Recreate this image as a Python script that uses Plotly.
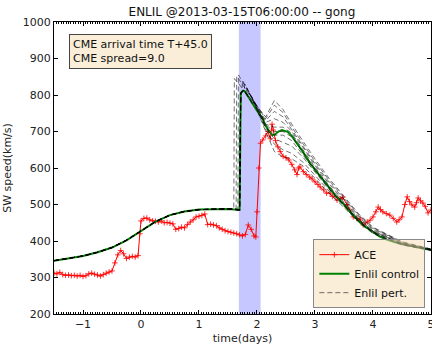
import plotly.graph_objects as go

# ---------------- data ----------------
ace_x = [-1.5, -1.45, -1.4, -1.35, -1.3, -1.25, -1.2, -1.15, -1.1, -1.05, -1.0, -0.95, -0.9, -0.85,
         -0.8, -0.75, -0.7, -0.65, -0.6, -0.55, -0.5, -0.45, -0.4, -0.35, -0.3, -0.25, -0.2, -0.15,
         -0.1, -0.05, -0.02, 0.0, 0.05, 0.1, 0.15, 0.2, 0.25, 0.3, 0.35, 0.4, 0.45, 0.5, 0.55, 0.6,
         0.65, 0.7, 0.75, 0.8, 0.85, 0.9, 0.95, 1.0, 1.05, 1.1, 1.15, 1.2, 1.25, 1.3, 1.35, 1.4, 1.45,
         1.5, 1.55, 1.6, 1.65, 1.7, 1.75, 1.8, 1.85, 1.9, 1.95, 1.98, 2.0, 2.03, 2.06, 2.1, 2.15, 2.19,
         2.23, 2.26, 2.28, 2.32, 2.36, 2.4, 2.45, 2.5, 2.55, 2.6, 2.65, 2.69, 2.72, 2.74, 2.8, 2.85,
         2.91, 2.95, 3.0, 3.05, 3.09, 3.15, 3.2, 3.26, 3.3, 3.38, 3.43, 3.48, 3.55, 3.6, 3.66, 3.72,
         3.78, 3.83, 3.9, 3.95, 4.0, 4.05, 4.09, 4.13, 4.17, 4.23, 4.29, 4.35, 4.41, 4.45, 4.5, 4.55,
         4.59, 4.63, 4.67, 4.72, 4.75, 4.78, 4.82, 4.86, 4.9, 4.95, 5.0]
ace_y = [312, 310, 314, 308, 306, 307, 305, 306, 304, 306, 303, 305, 310, 312,
         309, 307, 304, 308, 312, 315, 318, 340, 362, 374, 365, 352, 356, 358,
         356, 360, 420, 455, 462, 463, 458, 455, 454, 452, 455, 450, 451, 449, 447, 432,
         434, 438, 436, 445, 452, 458, 466, 468, 470, 474, 445, 446, 444, 442, 436, 432, 428,
         426, 424, 422, 420, 417, 414, 418, 444, 432, 414, 411, 480, 600, 668, 677, 688, 700,
         680, 720, 704, 675, 658, 645, 632, 628, 622, 610, 595, 582, 600, 603, 590, 582,
         575, 570, 562, 555, 548, 540, 531, 531, 522, 512, 516, 520, 500, 485, 466, 462,
         460, 444, 452, 457, 466, 480, 493, 486, 480, 475, 471, 462, 452, 458, 466, 500,
         521, 508, 499, 493, 505, 518, 510, 504, 495, 477, 485]

ctrl_x = [-1.5, -1.25, -1.0, -0.75, -0.5, -0.25, 0.0, 0.25, 0.5, 0.75, 1.0, 1.25, 1.5, 1.7,
          1.72, 1.76, 1.79, 1.85, 1.93, 2.0, 2.08, 2.15, 2.22, 2.27, 2.31, 2.37, 2.43, 2.5, 2.53,
          2.6, 2.69, 2.8, 2.91, 3.05, 3.2, 3.35, 3.5, 3.65, 3.83, 4.0, 4.12, 4.25, 4.41, 4.6, 4.8, 5.0]
ctrl_y = [346, 352, 359, 369, 382, 402, 428, 453, 471, 481, 486, 488, 488, 485,
          805, 812, 810, 795, 773, 757, 740, 716, 698, 690, 692, 700, 704, 701, 699,
          688, 668, 642, 614, 585, 553, 525, 500, 472, 443, 424, 412, 403, 395, 388, 381, 375]

pert_arrival = [1.60, 1.64, 1.67, 1.74, 1.78, 1.82, 1.86, 1.90, 1.94, 1.97]
pert_peak = [845, 852, 855, 840, 830, 818, 805, 795, 782, 772]
pert_post_x = [2.15, 2.3, 2.45, 2.6, 2.8, 3.0, 3.25, 3.5, 3.75, 4.0, 4.5, 5.0]
pert_post_y = [
    [740, 785, 760, 720, 672, 625, 570, 522, 475, 438, 398, 378],
    [735, 772, 752, 712, 665, 618, 565, 518, 472, 436, 397, 378],
    [730, 755, 740, 705, 660, 612, 560, 515, 470, 434, 396, 377],
    [725, 735, 725, 700, 655, 607, 555, 510, 466, 431, 395, 377],
    [720, 712, 712, 695, 650, 602, 550, 506, 462, 428, 393, 376],
    [712, 690, 690, 675, 635, 592, 542, 500, 457, 425, 392, 376],
    [705, 665, 650, 640, 615, 580, 535, 495, 454, 422, 390, 375],
    [700, 645, 630, 625, 605, 572, 530, 492, 452, 420, 389, 374],
    [710, 680, 670, 660, 628, 588, 540, 498, 456, 424, 391, 375],
    [718, 700, 700, 685, 642, 597, 546, 503, 460, 427, 393, 376],
]

band_x0, band_x1 = 1.6875, 2.0625
title = "ENLIL @2013-03-15T06:00:00 -- gong"
note = "CME arrival time T+45.0<br>CME spread=9.0"

# ---------------- figure ----------------
FONT = "DejaVu Sans, Verdana, sans-serif"
fig = go.Figure()

fig.add_vrect(x0=band_x0, x1=band_x1, fillcolor="rgba(0,0,255,0.22)", line_width=0, layer="below")

fig.add_trace(go.Scatter(x=ace_x, y=ace_y, mode="lines+markers", name="ACE",
                         line=dict(color="red", width=1),
                         marker=dict(symbol="cross-thin", size=4, line=dict(color="red", width=0.8))))

fig.add_trace(go.Scatter(x=ctrl_x, y=ctrl_y, mode="lines", name="Enlil control",
                         line=dict(color="#008000", width=2)))

for i, (ta, pk) in enumerate(zip(pert_arrival, pert_peak)):
    px = [x for x in ctrl_x if x < ta]
    py = [y for x, y in zip(ctrl_x, ctrl_y) if x < ta]
    px += [ta, ta + 0.01]
    py += [py[-1], pk]
    px += pert_post_x
    py += pert_post_y[i]
    fig.add_trace(go.Scatter(x=px, y=py, mode="lines", name="Enlil pert.",
                             showlegend=(i == 0),
                             line=dict(color="rgba(0,0,0,0.55)", width=1, dash="5px,3px")))

axis_common = dict(showline=True, linecolor="black", linewidth=1, mirror="ticks",
                   ticks="inside", ticklen=4, tickcolor="black", showgrid=False, zeroline=False,
                   ticklabeloverflow="allow", automargin=False,
                   tickfont=dict(family=FONT, size=11, color="#222"))

fig.update_xaxes(range=[-1.5, 5.0005], tickvals=[-1, 0, 1, 2, 3, 4, 5],
                 minor=dict(dtick=1 / 24, ticks="inside", ticklen=2, tickcolor="black", showgrid=False),
                 title=dict(text="time(days)", font=dict(family=FONT, size=11, color="#222"), standoff=4),
                 **axis_common)
fig.update_yaxes(range=[200, 1000], tickvals=[200, 300, 400, 500, 600, 700, 800, 900, 1000],
                 title=dict(text="SW speed(km/s)", font=dict(family=FONT, size=11, color="#222"), standoff=8),
                 **axis_common)

fig.add_annotation(xref="paper", yref="paper", x=0.04, y=0.96, xanchor="left", yanchor="top",
                   text=note, showarrow=False, align="left",
                   font=dict(family=FONT, size=11, color="#111"),
                   bgcolor="rgba(245,222,179,0.5)", bordercolor="#444", borderwidth=1, borderpad=3)

fig.update_layout(
    width=432, height=348,
    margin=dict(l=54, r=1, t=22, b=34, autoexpand=False),
    paper_bgcolor="white", plot_bgcolor="white",
    title=dict(text=title, x=0.56, xanchor="center", y=0.965, yanchor="middle",
               font=dict(family=FONT, size=12, color="#111")),
    legend=dict(x=0.985, y=0.02, xanchor="right", yanchor="bottom",
                bgcolor="rgba(245,222,179,0.5)", bordercolor="#888", borderwidth=1,
                font=dict(family=FONT, size=11, color="#111"), itemwidth=30, tracegroupgap=0),
    showlegend=True,
)

fig.write_html("out.html")
